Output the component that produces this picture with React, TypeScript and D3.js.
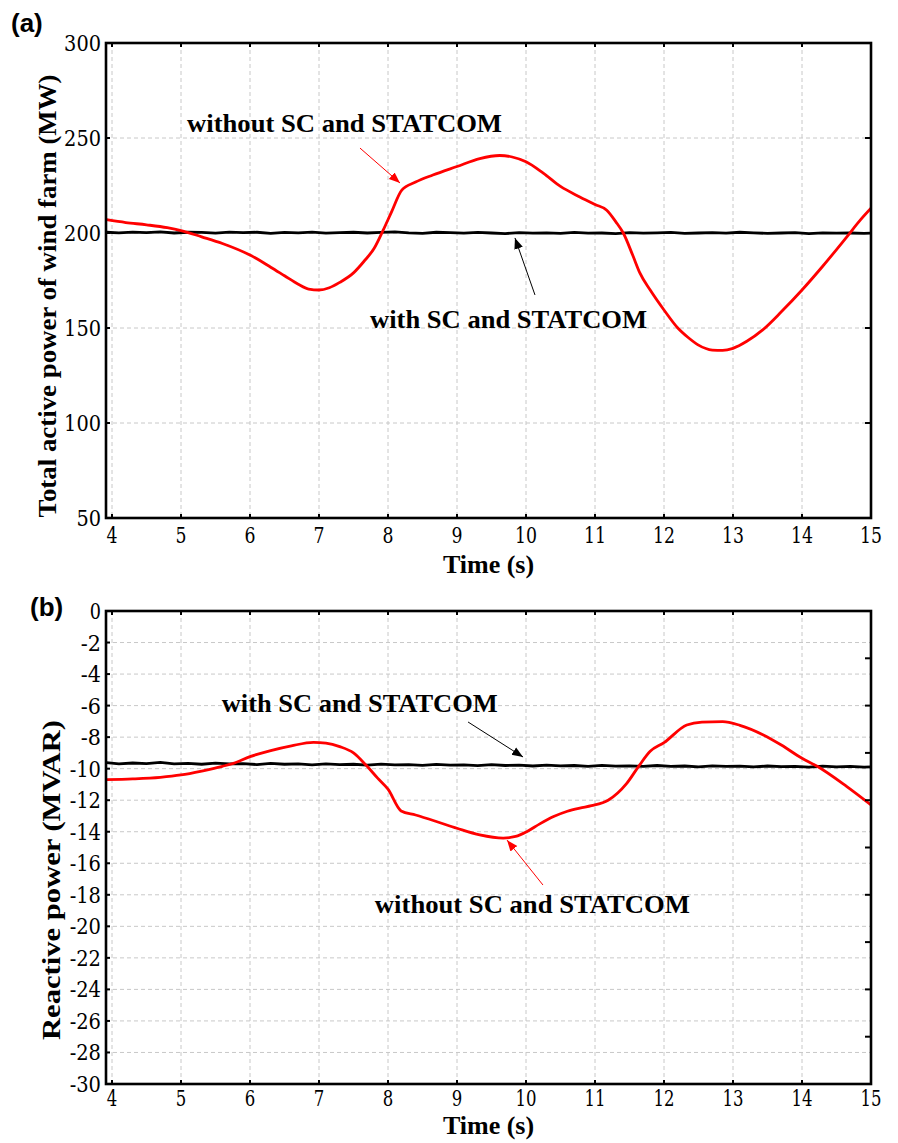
import React from "react";
import * as d3 from "d3";

// ---------- data ----------
const xTicks = [4, 5, 6, 7, 8, 9, 10, 11, 12, 13, 14, 15];
const yTicksA = [50, 100, 150, 200, 250, 300];
const yTicksB = [0, -2, -4, -6, -8, -10, -12, -14, -16, -18, -20, -22, -24, -26, -28, -30];
const rightTicksB = [0, -3, -6, -9, -12, -15, -18, -21, -24, -27, -30];

const blackTime = [3.92, 4.1, 4.3, 4.5, 4.7, 4.9, 5.1, 5.3, 5.5, 5.7, 5.9, 6.1, 6.3, 6.5, 6.7, 6.9, 7.1, 7.3, 7.5, 7.7, 7.9, 8.1, 8.3, 8.5, 8.7, 8.9, 9.1, 9.3, 9.5, 9.7, 9.9, 10.1, 10.3, 10.5, 10.7, 10.9, 11.1, 11.3, 11.5, 11.7, 11.9, 12.1, 12.3, 12.5, 12.7, 12.9, 13.1, 13.3, 13.5, 13.7, 13.9, 14.1, 14.3, 14.5, 14.7, 14.9, 15.0];

// (a) total active power, with SC and STATCOM (MW)
const activeWith = [200.4, 200.1, 200.5, 200.2, 200.6, 200.0, 200.4, 200.3, 199.9, 200.5, 200.2, 200.4, 199.8, 200.3, 200.1, 200.5, 199.9, 200.2, 200.4, 200.0, 200.3, 200.6, 200.1, 199.8, 200.4, 200.2, 199.9, 200.3, 200.0, 199.7, 200.2, 199.9, 200.1, 199.8, 200.3, 199.9, 200.0, 199.7, 200.2, 199.9, 200.1, 200.3, 199.8, 200.0, 200.2, 199.9, 200.4, 200.1, 199.8, 200.0, 200.2, 199.7, 200.1, 199.9, 200.0, 199.8, 199.9];

// (a) without SC and STATCOM: [time, MW]
const activeWithout: [number, number][] = [
  [3.92, 207.0], [4.2, 205.5], [4.5, 204.3], [4.8, 202.8], [5.0, 201.3], [5.3, 198.0], [5.6, 194.5],
  [6.0, 188.4], [6.3, 182.0], [6.5, 177.5], [6.7, 173.0], [6.85, 170.5], [7.0, 170.0], [7.15, 171.2],
  [7.3, 174.0], [7.5, 179.0], [7.65, 185.0], [7.8, 192.0], [7.93, 201.5], [8.05, 211.0], [8.2, 222.6],
  [8.4, 226.8], [8.65, 230.5], [9.0, 235.0], [9.33, 239.2], [9.62, 240.8], [9.8, 240.0],
  [10.0, 237.5], [10.25, 231.5], [10.5, 224.5], [10.78, 219.0], [11.0, 215.0], [11.17, 212.0],
  [11.3, 206.0], [11.41, 200.0], [11.55, 188.0], [11.65, 179.0], [11.8, 170.0], [12.0, 159.5],
  [12.2, 150.0], [12.35, 145.0], [12.5, 141.0], [12.7, 138.4], [12.85, 138.2], [13.0, 139.3],
  [13.2, 143.0], [13.43, 149.0], [13.7, 158.5], [14.0, 170.0], [14.3, 182.5], [14.65, 198.0],
  [14.85, 207.0], [15.0, 213.0],
];

// (b) reactive power, with SC and STATCOM (MVAR)
const reactiveWith = [-9.62, -9.70, -9.64, -9.68, -9.60, -9.70, -9.66, -9.72, -9.65, -9.70, -9.68, -9.74, -9.67, -9.72, -9.70, -9.76, -9.69, -9.74, -9.72, -9.78, -9.71, -9.76, -9.74, -9.79, -9.73, -9.78, -9.76, -9.81, -9.75, -9.80, -9.78, -9.83, -9.77, -9.82, -9.80, -9.85, -9.79, -9.84, -9.82, -9.86, -9.80, -9.85, -9.83, -9.88, -9.82, -9.86, -9.84, -9.89, -9.83, -9.87, -9.85, -9.90, -9.84, -9.88, -9.86, -9.90, -9.88];

// (b) without SC and STATCOM: [time, MVAR]
const reactiveWithout: [number, number][] = [
  [3.92, -10.7], [4.3, -10.65], [4.7, -10.55], [5.0, -10.4], [5.3, -10.15], [5.6, -9.85], [5.76, -9.66],
  [6.0, -9.24], [6.3, -8.85], [6.6, -8.55], [6.92, -8.33], [7.1, -8.38], [7.3, -8.6], [7.5, -9.0],
  [7.68, -9.77], [7.85, -10.6], [8.0, -11.3], [8.19, -12.68], [8.4, -12.94], [8.7, -13.35], [9.0, -13.78],
  [9.33, -14.2], [9.67, -14.4], [9.85, -14.3], [10.01, -14.0], [10.2, -13.5], [10.4, -13.04], [10.6, -12.7],
  [10.78, -12.5], [10.95, -12.35], [11.19, -12.0], [11.46, -10.93], [11.63, -9.87], [11.8, -8.9],
  [12.0, -8.35], [12.33, -7.23], [12.55, -7.05], [12.85, -7.02], [13.1, -7.25], [13.44, -7.86],
  [13.7, -8.5], [14.0, -9.34], [14.22, -9.85], [14.65, -11.14], [15.0, -12.3],
];

const labelWithout = "without SC and STATCOM";
const labelWith = "with SC and STATCOM";

// ---------- layout ----------
const W = 898;
const H = 1143;
const left = 106;
const right = 871;
const xDomain: [number, number] = [4 - 6 / 69, 15];

const serif = "Liberation Serif, DejaVu Serif, serif";
const tickSerif = "'DejaVu Serif Condensed', 'DejaVu Serif', serif";
const sans = "Liberation Sans, Arial, sans-serif";

type Ann = { x: number; y: number; text: string; len: number };
type Arrow = { x1: number; y1: number; x2: number; y2: number; color: string };

interface PanelProps {
  top: number;
  bottom: number;
  yDomain: [number, number];
  yTicks: number[];
  rightTicks: number[];
  withSeries: number[];
  withoutSeries: [number, number][];
  ylabel: string;
  ylabelLen: number;
  ylabelX: number;
  ylabelY: number;
  tag: string;
  tagX: number;
  tagY: number;
  tickFont: number;
  tickOffset: number;
  titleOffset: number;
  xDigitW: number;
  yDigitW: number;
  anns: Ann[];
  arrows: Arrow[];
  id: string;
}

function labelWidth(s: string, digitW: number) {
  let w = 0;
  for (const c of s) w += c === "-" ? digitW * 0.8 : digitW;
  return w;
}

function Panel(p: PanelProps) {
  const x = d3.scaleLinear().domain(xDomain).range([left, right]);
  const y = d3.scaleLinear().domain(p.yDomain).range([p.bottom, p.top]);
  const lineWith = d3
    .line<number>()
    .x((_, i) => x(blackTime[i]))
    .y((d) => y(d));
  const lineWithout = d3
    .line<[number, number]>()
    .x((d) => x(d[0]))
    .y((d) => y(d[1]))
    .curve(d3.curveMonotoneX);
  const n = Math.min(blackTime.length, p.withSeries.length);
  const tl = 4;
  return (
    <g>
      <defs>
        <marker id={`ah-red-${p.id}`} viewBox="0 0 10 10" refX="10" refY="5" markerWidth="11" markerHeight="11" orient="auto" markerUnits="userSpaceOnUse">
          <path d="M0,1 L10,5 L0,9 Z" fill="#ff0000" />
        </marker>
        <marker id={`ah-black-${p.id}`} viewBox="0 0 10 10" refX="10" refY="5" markerWidth="11" markerHeight="11" orient="auto" markerUnits="userSpaceOnUse">
          <path d="M0,1 L10,5 L0,9 Z" fill="#000" />
        </marker>
        <clipPath id={`clip-${p.id}`}>
          <rect x={left} y={p.top} width={right - left} height={p.bottom - p.top} />
        </clipPath>
      </defs>
      {xTicks.filter((t) => t < 15).map((t) => (
        <line key={`gx${t}`} x1={x(t)} x2={x(t)} y1={p.top} y2={p.bottom} stroke="#c8c8c8" strokeWidth={1} strokeDasharray="4,3" />
      ))}
      {p.yTicks.filter((t) => t !== p.yDomain[0] && t !== p.yDomain[1]).map((t) => (
        <line key={`gy${t}`} x1={left} x2={right} y1={y(t)} y2={y(t)} stroke="#c8c8c8" strokeWidth={1} strokeDasharray="4,3" />
      ))}
      <g clipPath={`url(#clip-${p.id})`}>
        <path d={lineWith(p.withSeries.slice(0, n)) || ""} fill="none" stroke="#000" strokeWidth={2.8} />
        <path d={lineWithout(p.withoutSeries) || ""} fill="none" stroke="#ff0000" strokeWidth={2.8} />
      </g>
      {xTicks.map((t) => (
        <g key={`tx${t}`}>
          <line x1={x(t)} x2={x(t)} y1={p.bottom} y2={p.bottom - tl} stroke="#000" strokeWidth={2} />
          <line x1={x(t)} x2={x(t)} y1={p.top} y2={p.top + tl} stroke="#000" strokeWidth={2} />
          <text x={x(t)} y={p.bottom + p.tickOffset} textAnchor="middle" style={{ fontFamily: tickSerif, fontWeight: 400 }} fontSize={p.tickFont}
            textLength={labelWidth(String(t), p.xDigitW)} lengthAdjust="spacingAndGlyphs">{t}</text>
        </g>
      ))}
      {p.yTicks.map((t) => (
        <g key={`ty${t}`}>
          <line x1={left} x2={left + tl} y1={y(t)} y2={y(t)} stroke="#000" strokeWidth={2} />
          <text x={left - 5} y={y(t) + 8} textAnchor="end" style={{ fontFamily: tickSerif, fontWeight: 400 }} fontSize={p.tickFont}
            textLength={labelWidth(String(t), p.yDigitW)} lengthAdjust="spacingAndGlyphs">{t}</text>
        </g>
      ))}
      {p.rightTicks.map((t) => (
        <line key={`tr${t}`} x1={right} x2={right - tl - 2} y1={y(t)} y2={y(t)} stroke="#000" strokeWidth={2} />
      ))}
      <rect x={left} y={p.top} width={right - left} height={p.bottom - p.top} fill="none" stroke="#000" strokeWidth={2.6} />
      {p.arrows.map((a, i) => (
        <line key={`ar${i}`} x1={x(a.x1)} y1={y(a.y1)} x2={x(a.x2)} y2={y(a.y2)} stroke={a.color === "red" ? "#ff0000" : "#000"} strokeWidth={1}
          markerEnd={`url(#ah-${a.color}-${p.id})`} />
      ))}
      {p.anns.map((a, i) => (
        <text key={`an${i}`} x={x(a.x)} y={y(a.y)} fontFamily={serif} fontWeight="bold" fontSize={26} textLength={a.len} lengthAdjust="spacingAndGlyphs">{a.text}</text>
      ))}
      <text x={(left + right) / 2} y={p.bottom + p.titleOffset} textAnchor="middle" fontFamily={serif} fontWeight="bold" fontSize={26}>Time (s)</text>
      <text transform={`translate(${p.ylabelX},${p.ylabelY}) rotate(-90)`} textAnchor="middle" fontFamily={serif} fontWeight="bold" fontSize={26}
        textLength={p.ylabelLen} lengthAdjust="spacingAndGlyphs">{p.ylabel}</text>
      <text x={p.tagX} y={p.tagY} fontFamily={sans} fontWeight="bold" fontSize={26}>{p.tag}</text>
    </g>
  );
}

export default function App() {
  return (
    <svg width={W} height={H} style={{ position: "absolute", left: 0, top: 0, background: "#fff" }}>
      <rect x={0} y={0} width={W} height={H} fill="#fff" />
      <Panel
        id="a"
        top={43}
        bottom={518}
        yDomain={[50, 300]}
        yTicks={yTicksA}
        rightTicks={yTicksA}
        withSeries={activeWith}
        withoutSeries={activeWithout}
        ylabel="Total active power of wind farm (MW)"
        ylabelLen={443}
        ylabelX={56}
        ylabelY={296}
        tag="(a)"
        tagX={11}
        tagY={32}
        tickFont={22}
        tickOffset={25}
        titleOffset={55}
        xDigitW={11}
        yDigitW={12.3}
        anns={[
          { x: 5.087, y: 253, text: labelWithout, len: 315 },
          { x: 7.74, y: 150, text: labelWith, len: 277 },
        ]}
        arrows={[
          { x1: 7.594, y1: 244.7, x2: 8.174, y2: 226.3, color: "red" },
          { x1: 10.13, y1: 167.4, x2: 9.84, y2: 197.4, color: "black" },
        ]}
      />
      <Panel
        id="b"
        top={611}
        bottom={1084}
        yDomain={[-30, 0]}
        yTicks={yTicksB}
        rightTicks={rightTicksB}
        withSeries={reactiveWith}
        withoutSeries={reactiveWithout}
        ylabel="Reactive power  (MVAR)"
        ylabelLen={320}
        ylabelX={60}
        ylabelY={880}
        tag="(b)"
        tagX={30}
        tagY={616}
        tickFont={22}
        tickOffset={22}
        titleOffset={50}
        xDigitW={10.5}
        yDigitW={11.2}
        anns={[
          { x: 5.59, y: -6.41, text: labelWith, len: 276 },
          { x: 7.81, y: -19.15, text: labelWithout, len: 315 },
        ]}
        arrows={[
          { x1: 9.16, y1: -7.04, x2: 9.957, y2: -9.26, color: "black" },
          { x1: 10.246, y1: -17.38, x2: 9.725, y2: -14.53, color: "red" },
        ]}
      />
    </svg>
  );
}
